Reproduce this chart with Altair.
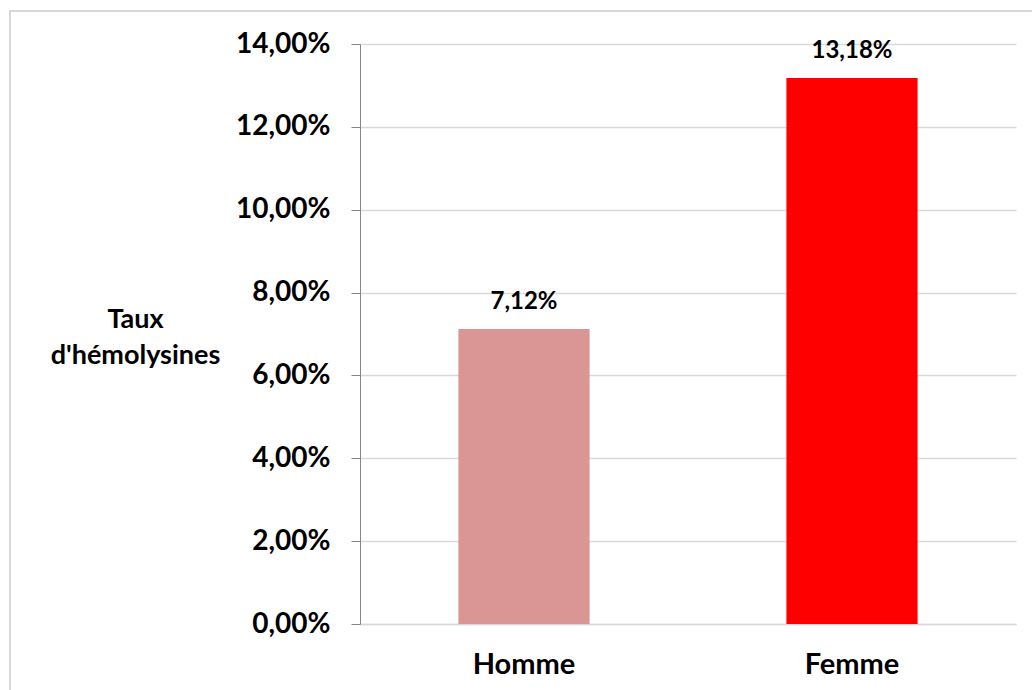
import altair as alt
import pandas as pd

# Hemolysin rate by sex
categories = ["Homme", "Femme"]
rates = [0.0712, 0.1318]
labels = ["7,12%", "13,18%"]
colors = ["#D99694", "#FF0000"]
y_ticks = [0.0, 0.02, 0.04, 0.06, 0.08, 0.10, 0.12, 0.14]

df = pd.DataFrame({"sexe": categories, "taux": rates, "label": labels, "couleur": colors})

FONT = "Lato"
W, H = 656, 580

x_enc = alt.X(
    "sexe:N",
    sort=categories,
    scale=alt.Scale(paddingInner=0.6, paddingOuter=0.3),
    axis=alt.Axis(
        title=None, labelAngle=0, labelFont=FONT, labelFontSize=29, labelFontWeight="bold",
        labelColor="black", labelPadding=26, ticks=False, domainColor="#d9d9d9", domainWidth=1.5,
    ),
)

bars = alt.Chart(df).mark_bar().encode(
    x=x_enc,
    y=alt.Y(
        "taux:Q",
        scale=alt.Scale(domain=[0, 0.14], nice=False),
        axis=alt.Axis(
            values=y_ticks,
            labelExpr="replace(format(datum.value, '.2%'), '.', ',')",
            labelFont=FONT, labelFontSize=28, labelFontWeight="bold", labelColor="black",
            labelPadding=21, tickSize=9, tickColor="#868686", domainColor="#868686",
            gridColor="#d9d9d9", gridWidth=1.5,
            title=["Taux", "d'hémolysines"], titleAngle=0, titleFont=FONT, titleFontSize=27,
            titleFontWeight="bold", titleColor="black", titleAlign="center",
            titleBaseline="middle", titleX=-225, titleY=275, titleLineHeight=36,
        ),
    ),
    color=alt.Color("couleur:N", scale=None),
)

text = alt.Chart(df).mark_text(
    font=FONT, fontSize=24, fontWeight="bold", color="black", dy=-15, baseline="bottom"
).encode(
    x=alt.X("sexe:N", sort=categories),
    y="taux:Q",
    text="label:N",
)

# outer frame of the chart object
frame = alt.Chart(df).mark_rect(
    fill=None, stroke="#d9d9d9", strokeWidth=2, clip=False
).encode(
    x=alt.value(-350), x2=alt.value(700), y=alt.value(-33), y2=alt.value(680)
)

chart = alt.layer(frame, bars, text).properties(
    width=W, height=H,
    padding={"left": 360, "top": 44, "right": 16, "bottom": 66},
    autosize=alt.AutoSizeParams(type="none"),
    background="white",
).configure_view(stroke=None)

chart.save("out.html", embed_options={"renderer": "svg", "actions": False})
